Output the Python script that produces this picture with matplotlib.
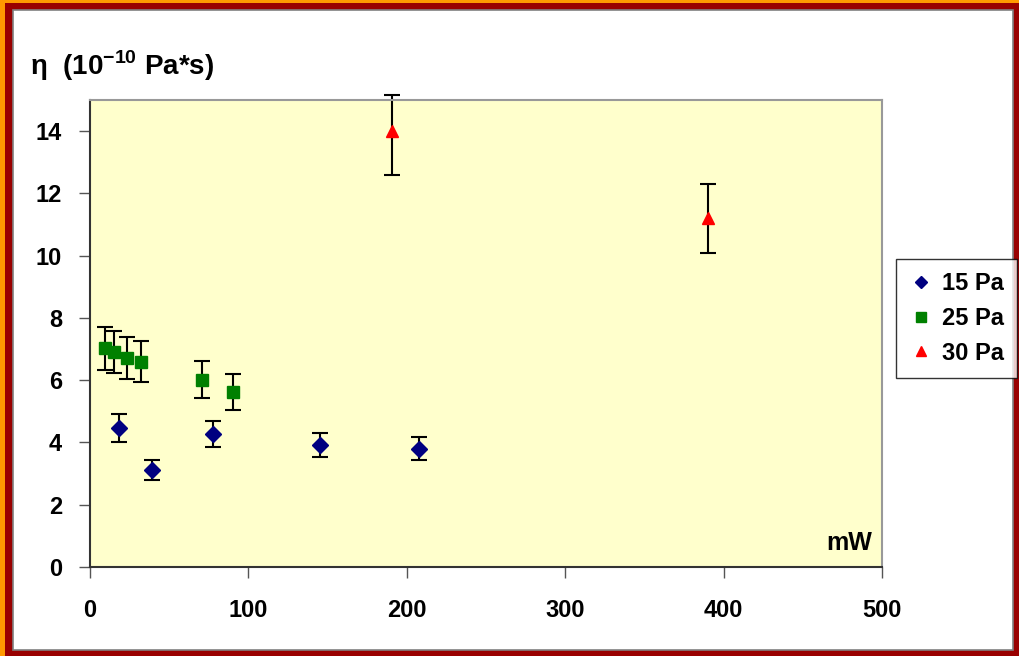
import matplotlib
matplotlib.use('Agg')
from matplotlib import pyplot as plt
from matplotlib.patches import Rectangle

# 15 Pa
p15_x = [18.5, 39, 77.5, 145, 207.5]
p15_y = [4.47, 3.12, 4.27, 3.92, 3.80]
p15_err = [0.44, 0.31, 0.42, 0.38, 0.37]

# 25 Pa
p25_x = [9.5, 15, 23.5, 32, 70.5, 90]
p25_y = [7.02, 6.91, 6.72, 6.60, 6.02, 5.62]
p25_err = [0.70, 0.67, 0.67, 0.67, 0.60, 0.57]

# 30 Pa
p30_x = [190.5, 390]
p30_y = [14.0, 11.2]
p30_err_lo = [1.4, 1.1]
p30_err_hi = [1.15, 1.1]

plt.rcParams['font.family'] = ['Liberation Sans', 'DejaVu Sans']
plt.rcParams['mathtext.fontset'] = 'custom'
plt.rcParams['mathtext.rm'] = 'Liberation Sans:bold'
plt.rcParams['mathtext.bf'] = 'Liberation Sans:bold'
W, H = 1019, 656
fig = plt.figure(figsize=(W / 100, H / 100), dpi=100)
fig.patch.set_facecolor('#990000')

# frame: orange edge top/left, dark red band, white panel
fig.add_artist(Rectangle((0, 1 - 3 / H), 1, 3 / H, transform=fig.transFigure, color='#FF9900', lw=0, zorder=-3))
fig.add_artist(Rectangle((0, 0), 5 / W, 1, transform=fig.transFigure, color='#FF9900', lw=0, zorder=-3))
fig.add_artist(Rectangle((13 / W, 6 / H), (1013 - 13) / W, (646 - 6) / H, transform=fig.transFigure,
                         facecolor='white', edgecolor='#808080', lw=1.2, zorder=-2))

ax = fig.add_axes([90 / W, 1 - 567 / H, 792 / W, 467 / H])
ax.set_facecolor('#FFFFCC')

ekw = dict(ecolor='black', elinewidth=1.5, capsize=6, capthick=1.5, ls='none', clip_on=False)
ax.errorbar(p15_x, p15_y, yerr=p15_err, fmt='D', color='#000080', ms=8, label='15 Pa', **ekw)
ax.errorbar(p25_x, p25_y, yerr=p25_err, fmt='s', color='#008000', ms=9, label='25 Pa', **ekw)
ax.errorbar(p30_x, p30_y, yerr=[p30_err_lo, p30_err_hi], fmt='^', color='#FF0000', ms=9, label='30 Pa', **ekw)

ax.set_xlim(0, 500)
ax.set_ylim(0, 15)
ax.set_xticks(range(0, 501, 100))
ax.set_yticks(range(0, 15, 2))
ax.tick_params(axis='both', labelsize=17, width=1, length=8, color='#555555')
ax.tick_params(axis='x', pad=15)
ax.tick_params(axis='y', pad=12)
for lab in ax.get_xticklabels() + ax.get_yticklabels():
    lab.set_fontweight('bold')
for s in ['top', 'right']:
    ax.spines[s].set_color('#999999')
    ax.spines[s].set_linewidth(1.5)
for s in ['left', 'bottom']:
    ax.spines[s].set_color('#333333')
    ax.spines[s].set_linewidth(1.5)

ax.text(0.987, 0.025, 'mW', transform=ax.transAxes, ha='right', va='bottom', fontsize=18, fontweight='bold')
fig.text(30 / W, 1 - 66 / H, 'η  (10$^{-10}$ Pa*s)', fontsize=20, fontweight='bold', va='center')

handles, labels = ax.get_legend_handles_labels()
handles = [h[0] for h in handles]
leg = fig.legend(handles, labels, loc='upper left', bbox_to_anchor=(896 / W, 1 - 259 / H),
                 prop={'size': 17, 'weight': 'bold'}, frameon=True, fancybox=False,
                 handletextpad=0.4, handlelength=1.0, labelspacing=0.5, borderpad=0.55,
                 borderaxespad=0, markerscale=0.75)
leg.get_frame().set_edgecolor('black')
leg.get_frame().set_linewidth(1)

plt.savefig('out.png', dpi=100, facecolor=fig.get_facecolor())
